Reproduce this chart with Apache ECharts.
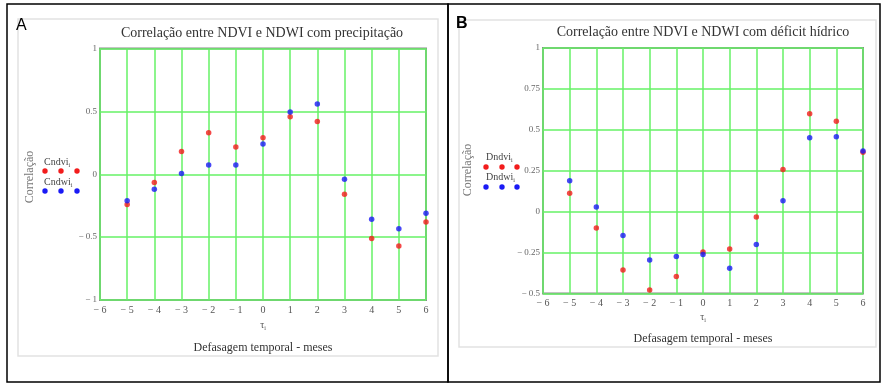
<!DOCTYPE html>
<html><head><meta charset="utf-8">
<script src="https://cdn.jsdelivr.net/npm/echarts@6/dist/echarts.min.js"></script>
<style>html,body{margin:0;padding:0;background:#fff}#c{width:889px;height:389px}</style>
</head><body><div id="c"></div>
<script>
// Lags (months)
var lags = [-5,-4,-3,-2,-1,0,1,2,3,4,5,6];
// Panel A: correlation with precipitation
var cndvi = [-0.24,-0.065,0.18,0.33,0.217,0.29,0.457,0.42,-0.16,-0.51,-0.57,-0.38];
var cndwi = [-0.21,-0.12,0.005,0.074,0.074,0.24,0.495,0.558,-0.04,-0.357,-0.434,-0.31];
// Panel B: correlation with water deficit
var dndvi = [0.113,-0.10,-0.356,-0.478,-0.396,-0.246,-0.228,-0.033,0.258,0.598,0.552,0.363];
var dndwi = [0.189,0.028,-0.145,-0.295,-0.274,-0.262,-0.346,-0.201,0.067,0.451,0.457,0.37];

var titleA = 'Correlação entre NDVI e NDWI com precipitação';
var titleB = 'Correlação entre NDVI e NDWI com déficit hídrico';

function pairs(xs, ys){ return xs.map(function(x,i){ return [x, ys[i]]; }); }
function fmt(v){
  var s = (Math.round(v*100)/100).toString();
  return v < 0 ? '\u2212 ' + s.replace('-', '') : s;
}
var serif = 'Liberation Serif';
var grid = {lineStyle:{color:'#66f266', width:1.5}};
function xAxis(idx){
  return {type:'value', gridIndex:idx, min:-6, max:6, interval:1,
    axisLine:{show:false}, axisTick:{show:false},
    axisLabel:{formatter:fmt, fontFamily:serif, fontSize:10, color:'#555', margin:5},
    splitLine:grid};
}
function yAxis(idx, min, interval){
  return {type:'value', gridIndex:idx, min:min, max:1, interval:interval,
    axisLine:{show:false}, axisTick:{show:false},
    axisLabel:{formatter:fmt, fontFamily:serif, fontSize:9, color:'#666', margin:3},
    splitLine:grid};
}
function ser(name, idx, xs, ys, color){
  return {name:name, type:'scatter', xAxisIndex:idx, yAxisIndex:idx,
    data:pairs(xs, ys), symbolSize:5.5, itemStyle:{color:color}, z:5, silent:true};
}
var RED = '#f21c1c', BLUE = '#1a1af5';

function txt(x, y, text, opts){
  var st = Object.assign({text:text, fontFamily:serif, fontSize:12, fill:'#333'}, opts||{});
  return {type:'text', x:x, y:y, style:st, z:20};
}
function dot(x, y, c){ return {type:'circle', shape:{cx:x, cy:y, r:2.7}, style:{fill:c}, z:20}; }
function sub(base){
  return {type:'text', style:{
    text:'{a|'+base+'}{s|i}',
    rich:{a:{fontFamily:serif, fontSize:10, fill:'#444'}, s:{fontFamily:serif, fontSize:6, fill:'#444', padding:[6,0,0,0]}}
  }, z:20};
}
function tau(x, y){
  return {type:'text', x:x, y:y, style:{text:'{a|\u03c4}{s|i}', textAlign:'center',
    rich:{a:{fontFamily:serif, fontSize:10, fill:'#555'}, s:{fontFamily:serif, fontSize:6, fill:'#555', padding:[5,0,0,0]}}}, z:20};
}

var graphics = [
  {type:'rect', shape:{x:7, y:4, width:441, height:378}, style:{fill:null, stroke:'#000', lineWidth:1.5}, z:1},
  {type:'rect', shape:{x:448, y:4, width:432, height:378}, style:{fill:null, stroke:'#000', lineWidth:1.5}, z:1},
  {type:'rect', shape:{x:18, y:19, width:420, height:337}, style:{fill:null, stroke:'#e2e2e2', lineWidth:1.5}, z:1},
  {type:'rect', shape:{x:459, y:20, width:417, height:327}, style:{fill:null, stroke:'#e2e2e2', lineWidth:1.5}, z:1},
  txt(16, 18, 'A', {fontFamily:'Liberation Sans', fontSize:16, fill:'#000'}),
  txt(456, 16, 'B', {fontFamily:'Liberation Sans', fontSize:16, fill:'#000', fontWeight:'bold'}),
  txt(262, 33, titleA, {fontSize:14, textAlign:'center', textVerticalAlign:'middle'}),
  txt(703, 32, titleB, {fontSize:14, textAlign:'center', textVerticalAlign:'middle'}),
  {type:'text', x:30, y:177, rotation:Math.PI/2, style:{text:'Correlação', fontFamily:serif, fontSize:12, fill:'#777', textAlign:'center', textVerticalAlign:'middle'}, z:20},
  {type:'text', x:468, y:170, rotation:Math.PI/2, style:{text:'Correlação', fontFamily:serif, fontSize:12, fill:'#777', textAlign:'center', textVerticalAlign:'middle'}, z:20},
  Object.assign(sub('Cndvi'), {x:44, y:156}),
  dot(45,171,RED), dot(61,171,RED), dot(77,171,RED),
  Object.assign(sub('Cndwi'), {x:44, y:176}),
  dot(45,191,BLUE), dot(61,191,BLUE), dot(77,191,BLUE),
  Object.assign(sub('Dndvi'), {x:486, y:151}),
  dot(486,167,RED), dot(502,167,RED), dot(517,167,RED),
  Object.assign(sub('Dndwi'), {x:486, y:171}),
  dot(486,187,BLUE), dot(502,187,BLUE), dot(517,187,BLUE),
  tau(263, 320),
  tau(703, 312),
  txt(263, 348, 'Defasagem temporal - meses', {fontSize:12, textAlign:'center', textVerticalAlign:'middle'}),
  txt(703, 339, 'Defasagem temporal - meses', {fontSize:12, textAlign:'center', textVerticalAlign:'middle'})
];

var chart = echarts.init(document.getElementById('c'), null, {renderer:'canvas'});
chart.setOption({
  animation:false,
  backgroundColor:'#fff',
  grid:[
    {left:100, top:48.5, width:326, height:251.5, show:true, borderColor:'#8a8a8a', borderWidth:2, backgroundColor:'transparent'},
    {left:543, top:48, width:320, height:245.5, show:true, borderColor:'#8a8a8a', borderWidth:2, backgroundColor:'transparent'}
  ],
  xAxis:[xAxis(0), xAxis(1)],
  yAxis:[yAxis(0, -1, 0.5), yAxis(1, -0.5, 0.25)],
  series:[
    ser('Cndvi', 0, lags, cndvi, RED),
    ser('Cndwi', 0, lags, cndwi, BLUE),
    ser('Dndvi', 1, lags, dndvi, RED),
    ser('Dndwi', 1, lags, dndwi, BLUE)
  ],
  graphic:graphics
});
</script></body></html>
